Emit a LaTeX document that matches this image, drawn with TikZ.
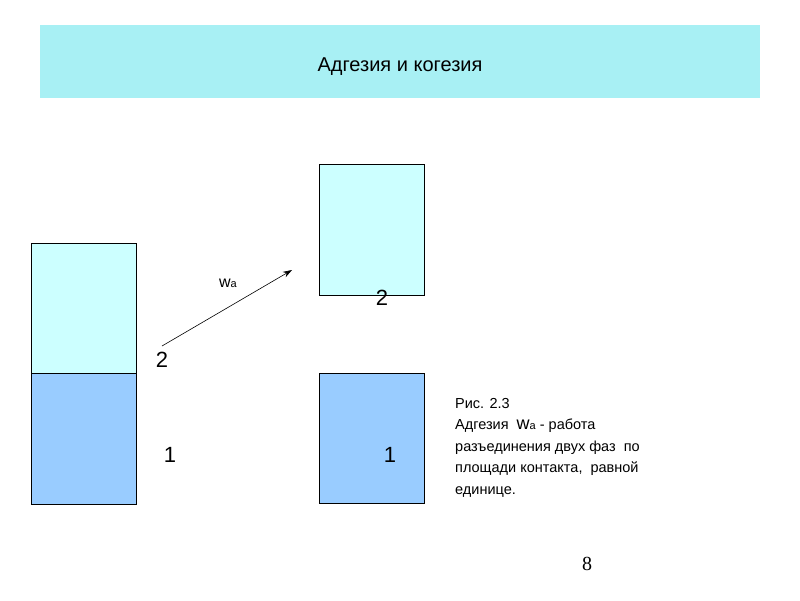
\documentclass[tikz,border=0pt]{standalone}
\usepackage{fontspec}
\usetikzlibrary{arrows.meta}
\setmainfont{Liberation Sans}
\newfontfamily\serifnum{Liberation Serif}
\definecolor{band}{HTML}{A8F0F4}
\definecolor{light}{HTML}{CCFFFF}
\definecolor{dark}{HTML}{99CCFF}
\begin{document}
\begin{tikzpicture}[x=1pt,y=-1pt,
  box/.style={draw=black,line width=0.6pt},
  num/.style={font=\fontsize{22}{24}\selectfont},
  captext/.style={font=\fontsize{14.5}{21.5}\selectfont,align=left,anchor=north west,inner sep=0}]
\useasboundingbox[fill=white] (0,0) rectangle (800,600);
\fill[band] (40,25) rectangle (760,98);
\node (title) at (400,67) {\fontsize{20}{24}\selectfont Адгезия и когезия};
\draw[box,fill=light] (31,243) rectangle (136,373);
\draw[box,fill=dark] (31,373) rectangle (136,504);
\draw[box,fill=light] (319,164) rectangle (424,295);
\draw[box,fill=dark] (319,373) rectangle (424,503);
\coordinate (s) at (162,346);
\coordinate (e) at (292,270);
\draw[-{Stealth[length=9pt,width=6pt]},line width=0.6pt] (s) -- (e);
\node (wa) at (228,283) {\fontsize{16}{18}\selectfont w{\fontsize{11}{12}\selectfont a}};
\node[num] (n2a) at (162,360) {2};
\node[num] (n2b) at (382,298) {2};
\node[num] (n1a) at (170,455) {1};
\node[num] (n1b) at (390,455) {1};
\node[captext] (capt) at (455,398) {Рис. 2.3\\Адгезия \ {\fontsize{18}{18}\selectfont w}{\fontsize{11}{12}\selectfont a} - работа\\разъединения двух фаз \ по\\площади контакта, \ равной\\единице.};
\node (pg) at (587,564) {\serifnum\fontsize{20}{22}\selectfont 8};
\end{tikzpicture}
\end{document}
